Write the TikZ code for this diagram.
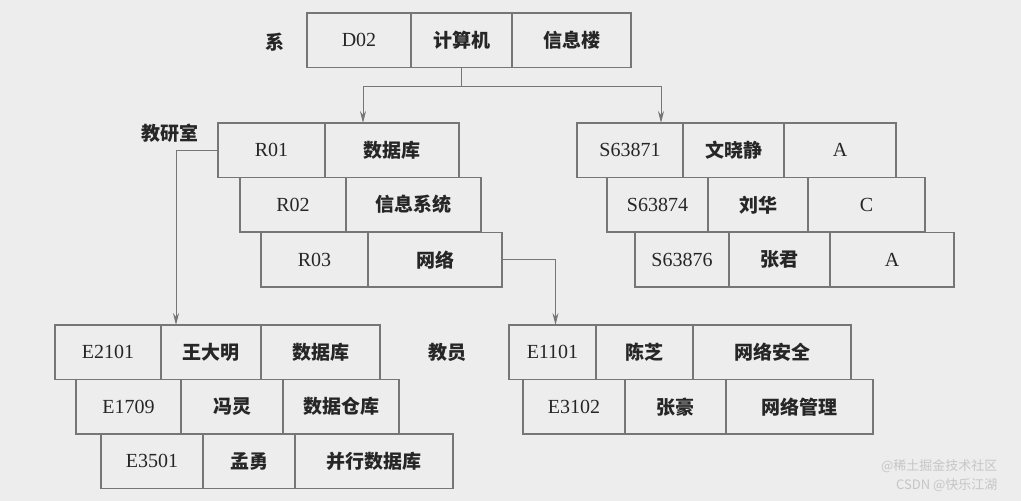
\documentclass[tikz,border=0pt]{standalone}
\usepackage{fontspec}
\setmainfont{Liberation Serif}
\newfontfamily\cjk{Noto Sans CJK SC}
\usetikzlibrary{arrows.meta,positioning}
\definecolor{paper}{HTML}{EDEDED}
\definecolor{rule}{HTML}{767676}
\definecolor{ink}{HTML}{262626}

\begin{document}
\begin{tikzpicture}[x=1pt,y=-1pt,
  cell/.style={draw=rule, line width=1.4pt, outer sep=0pt, inner sep=0pt, anchor=north west, minimum height=54.5pt, text=ink, font=\fontsize{20}{24}\selectfont},
  zh/.style={font=\cjk\bfseries\fontsize{19}{23}\selectfont},
  tag/.style={text=ink, font=\cjk\bfseries\fontsize{19}{23}\selectfont},
  link/.style={draw=rule, line width=1pt, -{Stealth[length=12pt,width=6pt]}}]
\fill[paper] (0,0) rectangle (1021,501);
\node[tag] (dept) at (275,42) {系};
\node[cell, minimum width=104pt] (d1) at (307,13) {D02};
\node[cell, zh, minimum width=101pt] (d2) at (411,13) {计算机};
\node[cell, zh, minimum width=119pt] (d3) at (512,13) {信息楼};
\node[tag] (room) at (170,133) {教研室};
\node[cell, minimum width=107pt] (r1a) at (218,123) {R01};
\node[cell, zh, minimum width=134pt] (r1b) at (325,123) {数据库};
\node[cell, minimum width=106pt] (r2a) at (240,177.5) {R02};
\node[cell, zh, minimum width=135pt] (r2b) at (346,177.5) {信息系统};
\node[cell, minimum width=107pt] (r3a) at (261,232.5) {R03};
\node[cell, zh, minimum width=134pt] (r3b) at (368,232.5) {网络};
\node[cell, minimum width=106pt] (s1a) at (577,123) {S63871};
\node[cell, zh, minimum width=101pt] (s1b) at (683,123) {文晓静};
\node[cell, minimum width=112pt] (s1c) at (784,123) {A};
\node[cell, minimum width=101pt] (s2a) at (607,177.5) {S63874};
\node[cell, zh, minimum width=100pt] (s2b) at (708,177.5) {刘华};
\node[cell, minimum width=117pt] (s2c) at (808,177.5) {C};
\node[cell, minimum width=94pt] (s3a) at (635,232.5) {S63876};
\node[cell, zh, minimum width=101pt] (s3b) at (729,232.5) {张君};
\node[cell, minimum width=124pt] (s3c) at (830,232.5) {A};
\node[cell, minimum width=106pt] (e1a) at (55,325) {E2101};
\node[cell, zh, minimum width=100pt] (e1b) at (161,325) {王大明};
\node[cell, zh, minimum width=119pt] (e1c) at (261,325) {数据库};
\node[cell, minimum width=105pt] (e2a) at (76,379.5) {E1709};
\node[cell, zh, minimum width=102pt] (e2b) at (181,379.5) {冯灵};
\node[cell, zh, minimum width=116pt] (e2c) at (283,379.5) {数据仓库};
\node[cell, minimum width=102pt] (e3a) at (101,434) {E3501};
\node[cell, zh, minimum width=92pt] (e3b) at (203,434) {孟勇};
\node[cell, zh, minimum width=158pt] (e3c) at (295,434) {并行数据库};
\node[tag] (staff) at (447,352) {教员};
\node[cell, minimum width=87pt] (f1a) at (509,325) {E1101};
\node[cell, zh, minimum width=97pt] (f1b) at (596,325) {陈芝};
\node[cell, zh, minimum width=158pt] (f1c) at (693,325) {网络安全};
\node[cell, minimum width=102pt] (f2a) at (523,379.5) {E3102};
\node[cell, zh, minimum width=101pt] (f2b) at (625,379.5) {张豪};
\node[cell, zh, minimum width=147pt] (f2c) at (726,379.5) {网络管理};
\draw[link] (d2.south) -- ++(0,18.5) -| ([xshift=38pt]r1b.north west);
\draw[link] (d2.south) -- ++(0,18.5) -| ([xshift=84pt]s1a.north west);
\draw[link] (r1a.west) -| ([xshift=15pt]e1b.north west);
\draw[link] (r3b.east) -| ([xshift=3pt]f1a.north);
\node[anchor=east, text=white!55!gray, font=\cjk\fontsize{13}{15}\selectfont] (mark1) at (1001,466) {@稀土掘金技术社区};
\node[anchor=east, text=white!55!gray, font=\cjk\fontsize{13}{15}\selectfont] (mark2) at (1001,485) {CSDN @快乐江湖};
\end{tikzpicture}
\end{document}
